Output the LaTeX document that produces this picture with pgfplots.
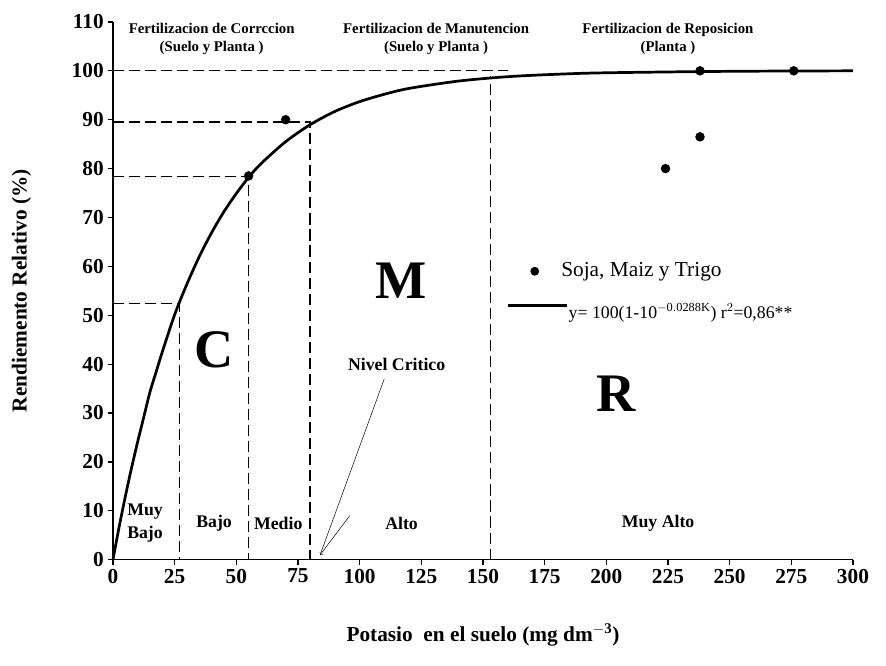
\documentclass[border=0pt]{standalone}
\usepackage{pgfplots}
\pgfplotsset{compat=1.18}
\usepackage{fontspec}
\setmainfont{Liberation Serif}
\begin{document}
\begin{tikzpicture}
\begin{axis}[name=ax, scale only axis, width=600pt, height=436pt,
 xmin=0,xmax=300,ymin=0,ymax=110,
 axis lines=left, axis line style={-, line width=1.3pt},
 xtick={0,25,...,300}, ytick={0,10,...,110},
 tick style={black, line width=1pt}, tick align=outside, major tick length=4pt,
 ticklabel style={font=\bfseries\LARGE}, /pgf/number format/assume math mode=true,
 xlabel={\bfseries\LARGE Potasio\ \ en el suelo (mg dm$^{\mathbf{-3}}$)},
 ylabel={\bfseries\LARGE Rendiemento Relativo (\%)},
 xlabel style={yshift=-26pt}, ylabel style={yshift=26pt}, clip=false]
\tikzset{dl/.style={line width=0.6pt, dash pattern=on 9pt off 4pt}}
\addplot[dl] coordinates {(0,52.5)(27,52.5)(27,0)};
\addplot[dl] coordinates {(0,78.5)(55,78.5)(55,0)};
\addplot[line width=1.8pt, dash pattern=on 9pt off 4pt] coordinates {(0,89.5)(80,89.5)(80,0)};
\addplot[dl] coordinates {(0,100)(160,100)};
\addplot[dl] coordinates {(153,0)(153,99)};
\addplot[line width=2.2pt,smooth] coordinates {(0,0)(2.5,6.7)(5,12.9)(7.5,18.7)(10,24.1)(12.5,29.2)(15,34.3)(17.5,38.4)(20,42.5)(25,50.1)(30,56.4)(35,62.0)(40,66.9)(45,71.2)(50,74.9)(55,78.2)(60,81.0)(70,85.5)(80,89.0)(90,91.7)(100,93.7)(110,95.2)(120,96.4)(140,97.9)(160,98.8)(180,99.3)(200,99.6)(250,99.9)(300,100)};
\addplot[only marks, mark=*, mark size=3.6pt] coordinates {(55,78.5)(70,90)(224,80)(238,86.5)(238,100)(276,100)};
\node[font=\bfseries\large, align=center] at (axis cs:40,106.5) {Fertilizacion de Corrccion\\(Suelo y Planta )};
\node[font=\bfseries\large, align=center] at (axis cs:131,106.5) {Fertilizacion de Manutencion\\(Suelo y Planta )};
\node[font=\bfseries\large, align=center] at (axis cs:225,106.5) {Fertilizacion de Reposicion\\(Planta )};
\node[font=\bfseries\fontsize{44}{44}\selectfont] at (axis cs:41,43) {C};
\node[font=\bfseries\fontsize{44}{44}\selectfont] at (axis cs:117,57) {M};
\node[font=\bfseries\fontsize{44}{44}\selectfont] at (axis cs:204,34) {R};
\node[font=\bfseries\Large, align=center] at (axis cs:115,40) {Nivel Critico};
\draw (axis cs:110,37) -- (axis cs:84,1);
\draw[->] (axis cs:96,9) -- (axis cs:84,1);
\node[font=\bfseries\Large, align=center] at (axis cs:13,7.5) {Muy\\Bajo};
\node[font=\bfseries\Large] at (axis cs:41,7.5) {Bajo};
\node[font=\bfseries\Large] at (axis cs:67,7.5) {Medio};
\node[font=\bfseries\Large] at (axis cs:117,7.5) {Alto};
\node[font=\bfseries\Large] at (axis cs:221,7.5) {Muy Alto};
\fill (axis cs:171,59) circle (3.6pt);
\node[anchor=west, font=\LARGE] at (axis cs:180,59) {Soja, Maiz y Trigo};
\draw[line width=2.2pt] (axis cs:160,52) -- (axis cs:184,52);
\node[anchor=west, font=\Large] at (axis cs:183,50.5) {y= 100(1-10$^{\mathrm{-0.0288K}}$) r$^{2}$=0,86**};
\end{axis}
\pgfresetboundingbox
\path ([shift={(-91.6pt,-86pt)}]ax.south west) rectangle ([shift={(26.8pt,17.8pt)}]ax.north east);
\end{tikzpicture}
\end{document}
